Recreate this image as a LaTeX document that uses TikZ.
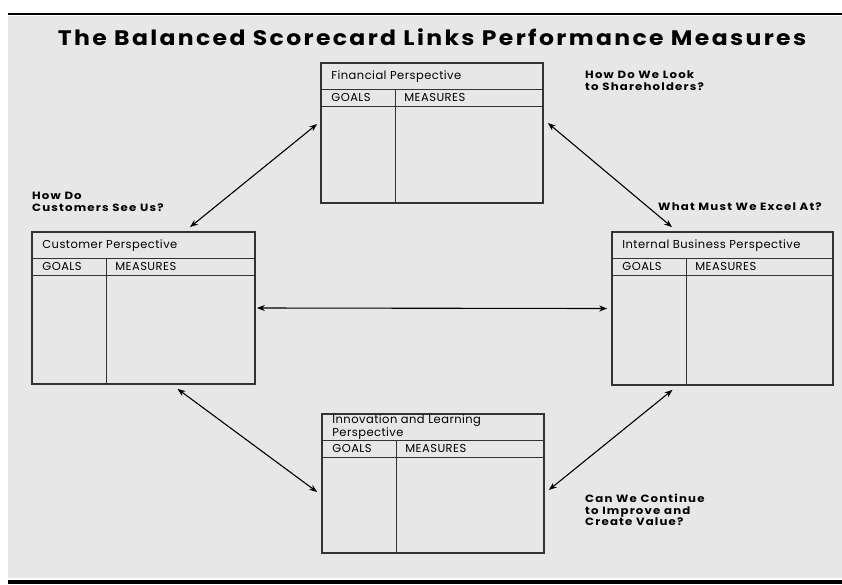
\documentclass[tikz,border=0pt]{standalone}
\usepackage{fontspec}
\setmainfont{Poppins}
\newfontfamily\headfont[LetterSpace=10]{Poppins}
\newfontfamily\boxfont[LetterSpace=4]{Poppins}
\usetikzlibrary{arrows.meta,calc}
\definecolor{panel}{HTML}{E7E7E7}
\tikzset{
  pbox/.style={draw=black!80, line width=1.7pt, inner sep=0pt},
  pline/.style={draw=black!80, line width=1.3pt},
  ptext/.style={anchor=west, inner sep=0pt, align=left, text=black, font=\boxfont\fontsize{11.5}{10.5}\selectfont},
  qtext/.style={anchor=north west, inner sep=0pt, align=left, xscale=1.12, font=\headfont\bfseries\fontsize{10.5}{11.5}\selectfont},
  link/.style={{Stealth[length=8pt,width=6pt]}-{Stealth[length=8pt,width=6pt]}, line width=1.1pt},
}
\def\perspective[#1](#2)(#3:#4)#5{%
  \node[pbox, minimum width=#3, minimum height=#4] (#1) at (#2) {};
  \draw[pline] ([yshift=-27pt]#1.north west) -- ([yshift=-27pt]#1.north east);
  \draw[pline] ([yshift=-44pt]#1.north west) -- ([yshift=-44pt]#1.north east);
  \draw[pline] ([xshift=75pt,yshift=-27pt]#1.north west) -- ([xshift=75pt]#1.south west);
  \node[ptext] (#1-name) at ([xshift=11pt,yshift=-14pt]#1.north west) {#5};
  \node[ptext] (#1-goals) at ([xshift=11pt,yshift=-35.5pt]#1.north west) {GOALS};
  \node[ptext] (#1-measures) at ([xshift=84pt,yshift=-35.5pt]#1.north west) {MEASURES};
}

\begin{document}
\begin{tikzpicture}[x=1pt, y=-1pt]
  %%%%% START %%%%%
  \useasboundingbox (0,0) rectangle (842,584);
  \fill[panel] (8,16) rectangle (842,578);
  \draw[line width=2.5pt] (8,14) -- (842,14);
  \fill[black] (8,580) rectangle (842,584);

  \node[anchor=base, inner sep=0pt, xscale=1.12, font=\headfont\bfseries\fontsize{21}{24}\selectfont] (title) at (432,45)
    {The Balanced Scorecard Links Performance Measures};

  \perspective[fin](432,133)(222pt:140pt){Financial Perspective}
  \perspective[cust](143.5,308)(223pt:152pt){Customer Perspective}
  \perspective[int](722.5,308.5)(221pt:153pt){Internal Business Perspective}
  \perspective[inn](433,483.5)(222pt:139pt){Innovation and Learning\\Perspective}

  \node[qtext] (q-fin) at (585,71) {How Do We Look\\to Shareholders?};
  \node[qtext] (q-cust) at (32,192) {How Do\\Customers See Us?};
  \node[qtext] (q-int) at (658,203) {What Must We Excel At?};
  \node[qtext] (q-inn) at (585,494) {Can We Continue\\to Improve and\\Create Value?};

  \draw[link] ([xshift=-3pt,yshift=9pt]fin.west) -- ([xshift=46.5pt,yshift=4pt]cust.north);
  \draw[link] ([xshift=4pt,yshift=10pt]fin.east) -- ([xshift=-50.5pt,yshift=4pt]int.north);
  \draw[link] ([xshift=1pt]cust.east) -- ([xshift=-4pt]int.west);
  \draw[link] ([xshift=34pt,yshift=-4pt]cust.south) -- ([xshift=-4pt,yshift=-8.5pt]inn.west);
  \draw[link] ([xshift=-50pt,yshift=-4pt]int.south) -- ([xshift=4pt,yshift=-6.5pt]inn.east);
  %%%%% END %%%%%
\end{tikzpicture}
\end{document}
